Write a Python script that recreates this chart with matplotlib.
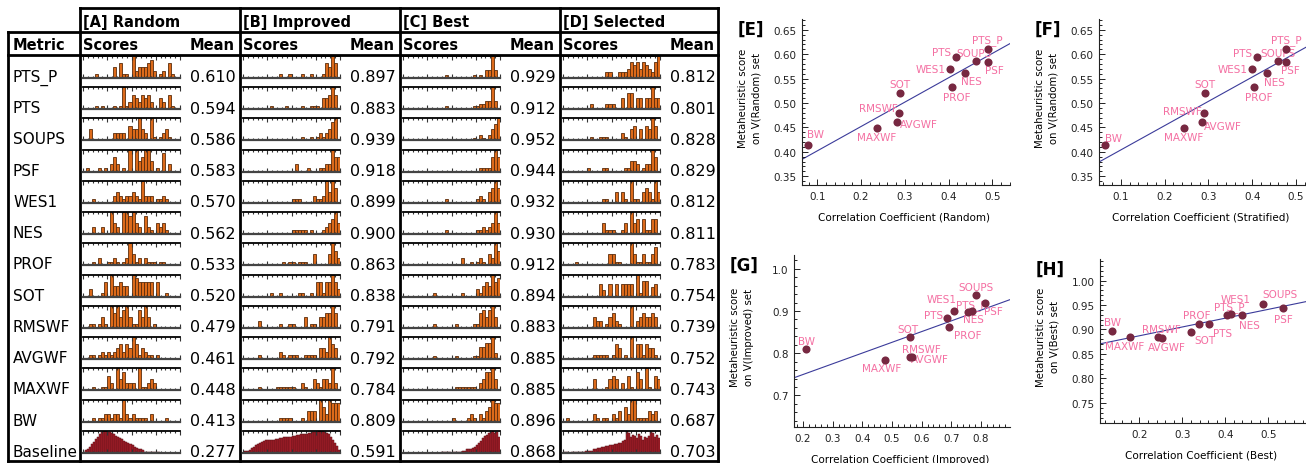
import numpy as np
import matplotlib

matplotlib.use("Agg")
import matplotlib.pyplot as plt
from matplotlib.ticker import MultipleLocator, AutoMinorLocator, FormatStrFormatter

W, H = 1306, 464

METRICS = ["PTS_P", "PTS", "SOUPS", "PSF", "WES1", "NES", "PROF", "SOT",
           "RMSWF", "AVGWF", "MAXWF", "BW", "Baseline"]

MEAN_RANDOM = [0.610, 0.594, 0.586, 0.583, 0.570, 0.562, 0.533, 0.520, 0.479, 0.461, 0.448, 0.413, 0.277]
MEAN_IMPROVED = [0.897, 0.883, 0.939, 0.918, 0.899, 0.900, 0.863, 0.838, 0.791, 0.792, 0.784, 0.809, 0.591]
MEAN_BEST = [0.929, 0.912, 0.952, 0.944, 0.932, 0.930, 0.912, 0.894, 0.883, 0.885, 0.885, 0.896, 0.868]
MEAN_SELECTED = [0.812, 0.801, 0.828, 0.829, 0.812, 0.811, 0.783, 0.754, 0.739, 0.752, 0.743, 0.687, 0.703]

# score histograms, one digit per bin (32 bins), metrics in METRICS order
HIST_RANDOM = [
    "00001000 00304110 62333452 01204100",
    "00001010 00101612 43243420 03204100",
    "00300000 00222204 33632061 01231000",
    "01000101 02420106 06346630 10502000",
    "00010000 00232122 32162220 11210000",
    "00020020 06320665 63205210 32310000",
    "00010200 11210126 31202111 01100000",
    "00200014 06334330 65444440 40010000",
    "00110131 06463563 11536301 00000000",
    "00110121 21234243 64132110 10000000",
    "00010011 42063522 20611232 00000000",
    "00010112 21221621 21111020 00010000",
]
HIST_IMPROVED = [
    "00000000 00001001 00010010 00143640",
    "00000000 01000010 00010011 10334640",
    "00000000 00000000 00010010 12123560",
    "00000000 00000000 02000100 01122644",
    "00000000 00000000 11100002 11263640",
    "00000000 00000000 11111010 00123463",
    "00000000 00000101 10111003 00003642",
    "00000000 01001000 00110010 44144642",
    "00000200 00001001 10003011 03344640",
    "00000100 00002101 11001111 03326430",
    "00000100 00011111 10021003 21332620",
    "00000000 00001111 00010333 06426555",
]
HIST_BEST = [
    "00000000 00000010 00000001 01033830",
    "00000000 00000010 00000001 12233830",
    "00000000 00000000 00000001 02102468",
    "00000000 00000000 00000000 01111464",
    "00000000 00000010 00000000 12103464",
    "00000000 00000010 00000000 11212363",
    "00000000 00000000 00020010 12103264",
    "00000000 00100000 00010000 21343645",
    "00000000 00100000 01000001 14535630",
    "00000000 00100000 01000001 14455720",
    "00000000 00000000 01111111 02355630",
    "00000000 00000000 10000121 02134655",
]
HIST_SELECTED = [
    "00000000 00000022 00222354 53543257",
    "00000000 01000011 10020330 22022422",
    "00000000 01001110 00021034 03043640",
    "00000000 10000110 00001133 20122640",
    "00000000 00000110 03031061 10343163",
    "00000000 00000311 10013063 40411440",
    "00001000 00000003 31100063 11311350",
    "00000000 00004204 04044440 71550340",
    "00000000 00322013 42100060 23433430",
    "00000000 00111110 14301060 44143310",
    "00000000 00300013 43020410 53061043",
    "01000000 00210110 21304266 11113230",
]

# baseline score distributions (48 bins)
BASE_RANDOM = [1, 2, 3, 5, 7, 9, 11, 13, 15, 17, 18, 18, 17, 17, 16, 15, 14, 13, 12, 11, 10, 9, 8, 7,
               6, 5, 4, 3, 3, 2, 1, 1, 1, 1, 1, 1, 1, 1, 0, 0, 0, 0, 0, 0, 0, 0, 0, 0]
BASE_IMPROVED = [2, 2, 3, 4, 6, 8, 10, 12, 14, 15, 16, 17, 17, 18, 18, 18, 19, 19, 20, 20, 21, 21, 22, 22,
                 23, 23, 24, 24, 25, 25, 26, 26, 27, 27, 28, 28, 29, 30, 30, 30, 29, 27, 25, 22, 18, 14, 9, 4]
BASE_BEST = [0, 0, 0, 0, 0, 0, 0, 0, 0, 0, 0, 0, 0, 0, 0, 0, 0, 0, 0, 1, 1, 1, 1, 1,
             1, 1, 1, 1, 1, 2, 2, 3, 3, 3, 4, 5, 7, 9, 11, 13, 15, 16, 18, 19, 20, 18, 19, 14]
BASE_SELECTED = [1, 1, 1, 0, 1, 1, 1, 1, 1, 1, 1, 2, 2, 2, 2, 3, 3, 4, 4, 5, 5, 6, 6, 7,
                 7, 8, 8, 9, 9, 11, 12, 20, 18, 14, 16, 15, 13, 17, 15, 12, 14, 13, 15, 19, 18, 14, 16, 13]

GROUPS = [
    ("[A] Random", HIST_RANDOM, BASE_RANDOM, MEAN_RANDOM),
    ("[B] Improved", HIST_IMPROVED, BASE_IMPROVED, MEAN_IMPROVED),
    ("[C] Best", HIST_BEST, BASE_BEST, MEAN_BEST),
    ("[D] Selected", HIST_SELECTED, BASE_SELECTED, MEAN_SELECTED),
]

# correlation coefficients (metrics without Baseline)
CORR_RANDOM = [0.489, 0.416, 0.462, 0.489, 0.402, 0.437, 0.408, 0.289, 0.286, 0.281, 0.237, 0.079]
CORR_STRATIFIED = [0.477, 0.412, 0.460, 0.478, 0.399, 0.434, 0.405, 0.292, 0.291, 0.286, 0.245, 0.063]
CORR_IMPROVED = [0.755, 0.687, 0.782, 0.814, 0.710, 0.769, 0.692, 0.561, 0.561, 0.567, 0.477, 0.210]
CORR_BEST = [0.405, 0.363, 0.487, 0.535, 0.413, 0.439, 0.339, 0.320, 0.252, 0.244, 0.178, 0.136]

ORANGE, ORANGE_EDGE = "#DC6A1A", "#5A2C0C"
RED, RED_EDGE = "#A61E2A", "#581015"
POINT = "#772841"
PINK = "#F46FA2"
FIT = "#3B3B9A"


def rect(x0, y0, x1, y1):
    """Pixel box (top-left origin) -> figure fraction rect."""
    return [x0 / W, 1 - y1 / H, (x1 - x0) / W, (y1 - y0) / H]


def counts_of(code):
    return [int(c) for c in code.replace(" ", "")]


fig = plt.figure(figsize=(W / 100, H / 100), dpi=100)
tab = fig.add_axes([0, 0, 1, 1])
tab.set_xlim(0, W)
tab.set_ylim(H, 0)
tab.axis("off")

# ---- table frame ----
TOP, HEAD2, HEAD3, BOTTOM = 8.5, 33, 56, 462
LEFT, RIGHT = 8, 718
GROUP_X = [80, 240, 400, 560]
ROW_H = (BOTTOM - HEAD3) / len(METRICS)
line = dict(color="black", lw=2.0, solid_capstyle="projecting")
tab.plot([GROUP_X[0], RIGHT], [TOP, TOP], **line)
for y in (HEAD2, HEAD3, BOTTOM):
    tab.plot([LEFT, RIGHT], [y, y], **line)
tab.plot([LEFT, LEFT], [HEAD2, BOTTOM], **line)
for gx in GROUP_X + [RIGHT]:
    tab.plot([gx, gx], [TOP, BOTTOM], **line)

tab.text(13, 50, "Metric", fontsize=10.5, fontweight="bold", va="baseline")


def sparkline(x0, top, counts, face, edge, lw):
    ax = fig.add_axes(rect(x0, top + 1, x0 + 97, top + 23))
    n = len(counts)
    ax.bar(np.arange(n), counts, width=1.0, align="edge", color=face,
           edgecolor=edge, linewidth=lw)
    ax.set_xlim(0, n)
    ax.set_ylim(0, max(counts))
    for side in ("left", "right"):
        ax.spines[side].set_visible(False)
    ax.spines["top"].set_linewidth(1.3)
    ax.spines["bottom"].set_linewidth(1.6)
    ax.spines["bottom"].set_color("#444444")
    ax.xaxis.set_major_locator(MultipleLocator(n / 4))
    ax.xaxis.set_minor_locator(MultipleLocator(n / 20))
    ax.tick_params(axis="x", which="both", top=True, bottom=True, direction="in",
                   labelbottom=False, width=0.8, color="#333333")
    ax.tick_params(axis="x", which="major", length=2.6)
    ax.tick_params(axis="x", which="minor", length=1.6)
    ax.set_yticks([])
    ax.patch.set_alpha(0)


for gx, (title, hists, base, means) in zip(GROUP_X, GROUPS):
    tab.text(gx + 3, 27.5, title, fontsize=10.5, fontweight="bold", va="baseline")
    tab.text(gx + 3, 50, "Scores", fontsize=10.5, fontweight="bold", va="baseline")
    tab.text(gx + 110, 50, "Mean", fontsize=10.5, fontweight="bold", va="baseline")
    for i, metric in enumerate(METRICS):
        top = HEAD3 + i * ROW_H
        if metric == "Baseline":
            sparkline(gx + 3, top, base, RED, RED_EDGE, 0.35)
        else:
            sparkline(gx + 3, top, counts_of(hists[i]), ORANGE, ORANGE_EDGE, 0.6)
        tab.text(gx + 110, top + 26.5, f"{means[i]:.3f}", fontsize=11.5, va="baseline")

for i, metric in enumerate(METRICS):
    top = HEAD3 + i * ROW_H
    tab.text(13, top + 26, metric, fontsize=11, va="baseline")

# ---- scatter panels ----
LABEL_OFFSETS = {
    "E": {"PTS_P": (0, 10), "PTS": (-14, 5), "SOUPS": (-2, 8), "PSF": (7, -8),
          "WES1": (-19, 0), "NES": (7, -8), "PROF": (5, -10), "SOT": (0, 9),
          "RMSWF": (-20, 5), "AVGWF": (22, -2), "MAXWF": (-1, -9), "BW": (7, 11)},
    "F": {"PTS_P": (0, 10), "PTS": (-15, 4), "SOUPS": (0, 8), "PSF": (4, -8),
          "WES1": (-19, 0), "NES": (7, -9), "PROF": (4, -10), "SOT": (0, 9),
          "RMSWF": (-22, 2), "AVGWF": (21, -4), "MAXWF": (-1, -9), "BW": (9, 7)},
    "G": {"PTS_P": (4, 8), "PTS": (-14, 3), "SOUPS": (0, 8), "PSF": (8, -8),
          "WES1": (-13, 12), "NES": (2, -8), "PROF": (19, -8), "SOT": (-2, 8),
          "RMSWF": (11, 8), "AVGWF": (18, -2), "MAXWF": (-3, -8), "BW": (1, 8)},
    "H": {"PTS_P": (2, 9), "PTS": (13, -9), "SOUPS": (17, 10), "PSF": (0, -11),
          "WES1": (5, 15), "NES": (7, -10), "PROF": (-2, 9), "SOT": (14, -8),
          "RMSWF": (0, 9), "AVGWF": (8, -10), "MAXWF": (-5, -9), "BW": (0, 9)},
}

PANELS = [
    # tag, box px, x values, y values, xlim, ylim, x step, y step, y fmt, x label, set name
    ("E", (802, 20, 1010, 186), CORR_RANDOM, MEAN_RANDOM[:12], (0.065, 0.54), (0.332, 0.672),
     0.1, 0.05, "%.2f", "Correlation Coefficient (Random)", "Random"),
    ("F", (1099, 20, 1306, 186), CORR_STRATIFIED, MEAN_RANDOM[:12], (0.050, 0.523), (0.332, 0.672),
     0.1, 0.05, "%.2f", "Correlation Coefficient (Stratified)", "Random"),
    ("G", (794, 256, 1010, 428), CORR_IMPROVED, MEAN_IMPROVED[:12], (0.170, 0.898), (0.625, 1.033),
     0.1, 0.1, "%.1f", "Correlation Coefficient (Improved)", "Improved"),
    ("H", (1100, 260, 1306, 424), CORR_BEST, MEAN_BEST[:12], (0.108, 0.588), (0.709, 1.044),
     0.1, 0.05, "%.2f", "Correlation Coefficient (Best)", "Best"),
]

for tag, box, xs, ys, xlim, ylim, xstep, ystep, yfmt, xlabel, setname in PANELS:
    x0, y0, x1, y1 = box
    ax = fig.add_axes(rect(*box))
    ax.set_xlim(*xlim)
    ax.set_ylim(*ylim)
    for side in ("top", "right"):
        ax.spines[side].set_visible(False)
    for side in ("left", "bottom"):
        ax.spines[side].set_linewidth(0.8)
        ax.spines[side].set_color("#222222")
    ax.xaxis.set_major_locator(MultipleLocator(xstep))
    ax.yaxis.set_major_locator(MultipleLocator(ystep))
    ax.xaxis.set_minor_locator(AutoMinorLocator(5))
    ax.yaxis.set_minor_locator(AutoMinorLocator(5))
    ax.xaxis.set_major_formatter(FormatStrFormatter("%.1f"))
    ax.yaxis.set_major_formatter(FormatStrFormatter(yfmt))
    ax.tick_params(which="both", direction="in", labelsize=7.5, labelcolor="#222222",
                   width=0.6, pad=4)
    ax.tick_params(which="major", length=4)
    ax.tick_params(which="minor", length=2)
    ax.patch.set_alpha(0)

    coef = np.polyfit(xs, ys, 1)
    xx = np.array(xlim)
    ax.plot(xx, np.polyval(coef, xx), color=FIT, lw=0.8, zorder=1)
    for m, x, y in zip(METRICS, xs, ys):
        ax.annotate(m, (x, y), xytext=LABEL_OFFSETS[tag][m], textcoords="offset pixels",
                    ha="center", va="center", fontsize=7.5, color=PINK, zorder=2,
                    annotation_clip=False)
    ax.scatter(xs, ys, s=34, color=POINT, zorder=3, clip_on=False, linewidths=0)

    tab.text(x0 - 64, y0 + 1, f"[{tag}]", fontsize=12, fontweight="bold", va="top", ha="left")
    tab.text(x0 - 52, (y0 + y1) / 2 - 5, f"Metaheuristic score\non V({setname}) set",
             rotation=90, fontsize=7.3, ha="center", va="center", linespacing=1.4)
    tab.text((x0 + x1) / 2 - 2, y1 + 32, xlabel, fontsize=7.5, ha="center", va="center")

fig.savefig("out.png", dpi=100)
